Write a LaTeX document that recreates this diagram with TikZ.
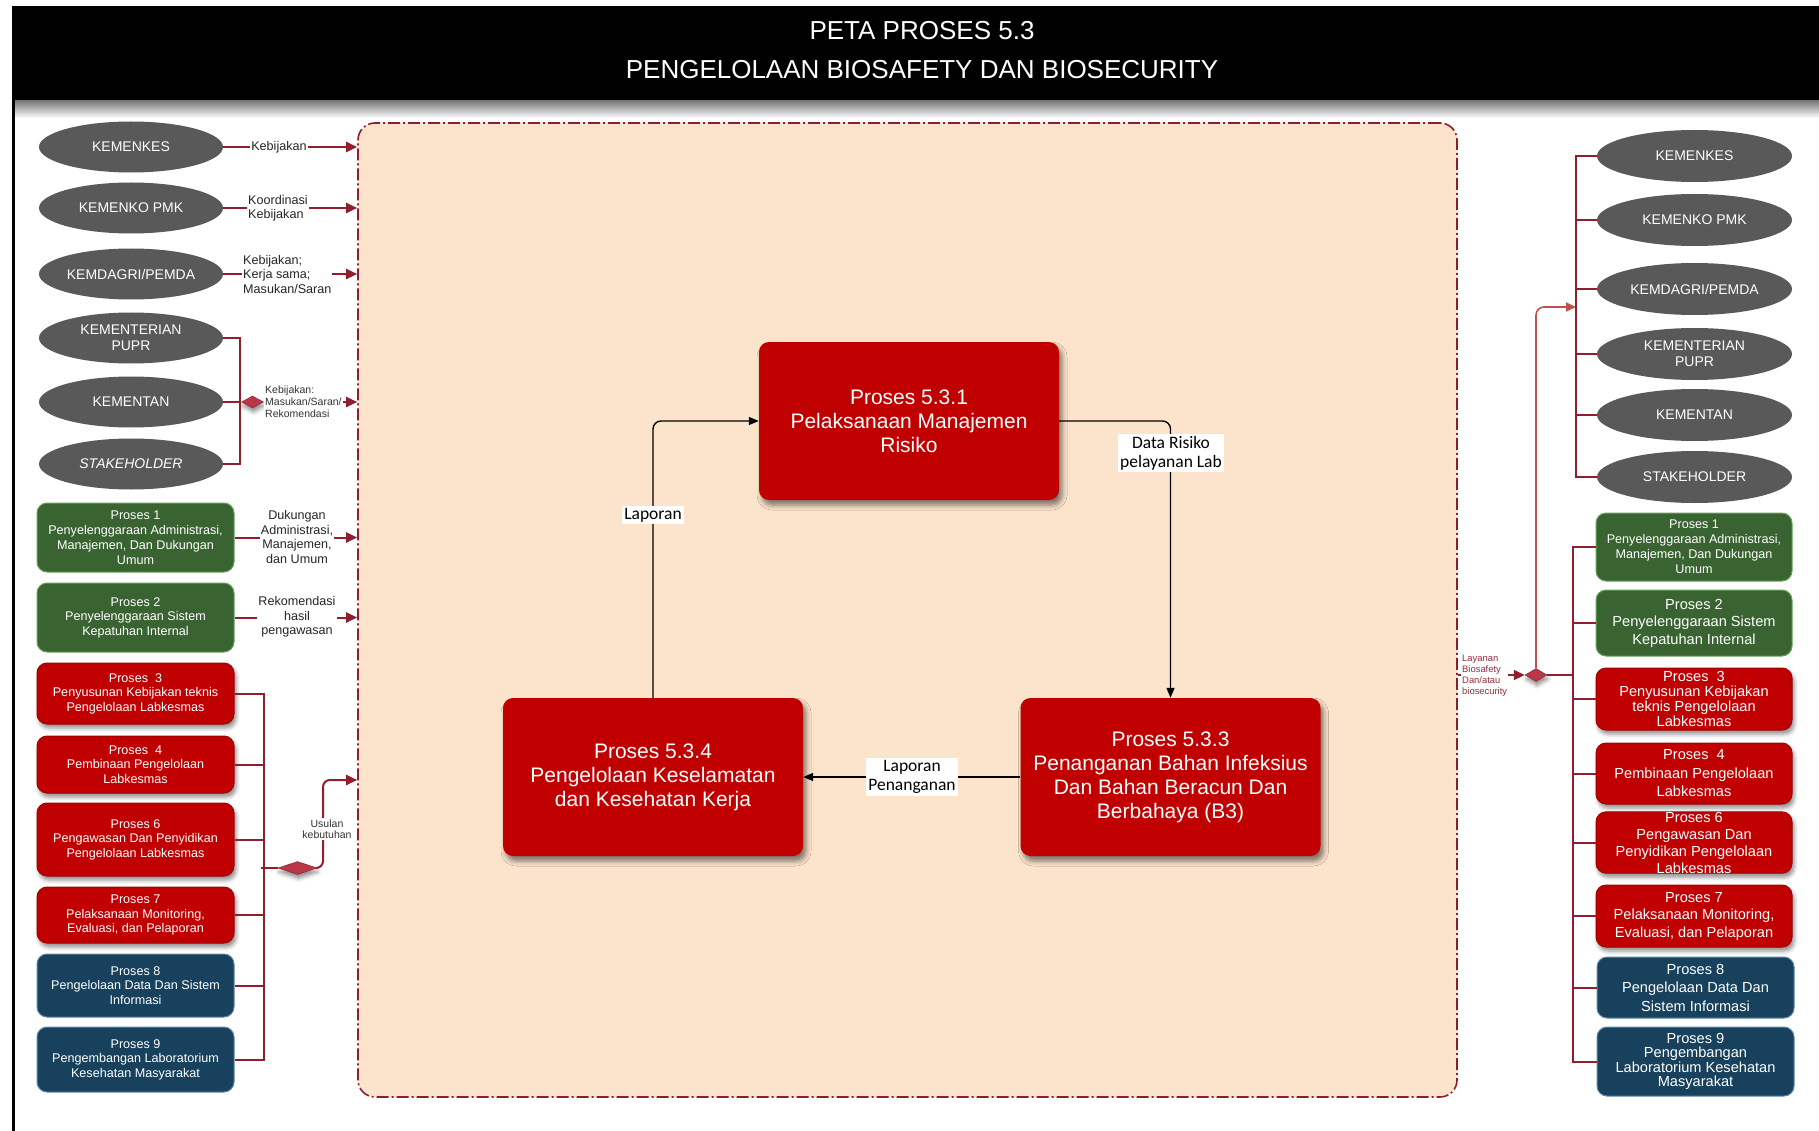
\documentclass[tikz,border=0pt]{standalone}
\usepackage{fontspec}
\setmainfont{Liberation Sans}
\newfontfamily\lblfont{Carlito}
\usetikzlibrary{arrows.meta,shapes.geometric,shadows.blur}

\definecolor{boxred}{RGB}{192,0,0}
\definecolor{boxgreen}{RGB}{58,99,50}
\definecolor{boxnavy}{RGB}{23,65,92}
\definecolor{ovalgray}{RGB}{89,89,89}
\definecolor{framefill}{RGB}{252,228,204}
\definecolor{framedraw}{RGB}{140,30,45}
\definecolor{linkred}{RGB}{145,30,45}
\definecolor{linklight}{RGB}{192,80,77}
\definecolor{diamfill}{RGB}{185,55,70}
\definecolor{notered}{RGB}{150,45,60}

\newcommand{\fsz}[2]{\fontsize{#1}{#2}\selectfont}

\begin{document}
\begin{tikzpicture}[x=1pt,y=-1pt,
  oval/.style={ellipse, fill=ovalgray, text=white, inner sep=0pt, align=center, font=\fsz{14}{16}},
  lefto/.style={oval, minimum width=184pt, minimum height=51pt},
  righto/.style={oval, minimum width=195pt, minimum height=52pt},
  sbox/.style={rounded corners=10pt, text=white, align=center, inner sep=0pt, line width=1pt},
  sred/.style={sbox, fill=boxred, draw=boxred!85!black, blur shadow={shadow xshift=2pt, shadow yshift=-4pt, shadow blur radius=4pt, shadow opacity=45}},
  sgreen/.style={sbox, fill=boxgreen, draw={rgb,255:red,100;green,165;blue,90}},
  snavy/.style={sbox, fill=boxnavy, draw={rgb,255:red,95;green,135;blue,165}},
  lsize/.style={minimum width=197pt, font=\fsz{12.6}{14.5}},
  rsize/.style={minimum width=196pt, font=\fsz{14.6}{17.5}},
  cbox/.style={rounded corners=10pt, fill=boxred, text=white, align=center, inner sep=0pt,
    minimum width=300pt, minimum height=158pt, font=\fsz{21}{24},
    blur shadow={shadow xshift=3pt, shadow yshift=-5pt, shadow blur radius=5pt, shadow opacity=50}},
  redlink/.style={draw=linkred, line width=2pt},
  redarrow/.style={redlink, -{Triangle[length=11pt,width=10pt]}},
  blackarrow/.style={draw=black, line width=1.4pt, rounded corners=8pt, -{Triangle[length=10pt,width=8pt]}},
  joint/.style={diamond, fill=diamfill, draw=diamfill!75!black, line width=0.5pt, inner sep=0pt,
    blur shadow={shadow xshift=1pt, shadow yshift=-4pt, shadow blur radius=4pt, shadow opacity=45}},
  sidelbl/.style={fill=white, inner sep=1pt, align=center, text=black!85, font=\fsz{12.6}{14.5}},
  smalllbl/.style={fill=white, inner sep=1pt, align=left, text=black!80, font=\fsz{10.5}{12}},
  clbl/.style={fill=white, inner sep=2pt, align=center, font=\lblfont\fsz{17.5}{19}}
]
\useasboundingbox (0,0) rectangle (1819,1131);

% header bar with its soft shadow and the left margin rule
\shade[top color=black!55, bottom color=white] (15,100) rectangle (1819,118);
\fill[black] (12,6) rectangle (1819,100);
\draw[line width=3pt] (13.5,99) -- (13.5,1131);
\node[text=white, font=\fsz{26}{30}] (title1) at (922,31) {PETA PROSES 5.3};
\node[text=white, font=\fsz{26}{30}] (title2) at (922,70) {PENGELOLAAN BIOSAFETY DAN BIOSECURITY};

% process area
\node[draw=framedraw, fill=framefill, rounded corners=17pt, line width=1.6pt,
  dash pattern=on 12pt off 3pt on 2pt off 3pt, minimum width=1099pt, minimum height=974pt,
  inner sep=0pt] (frame) at (907.5,610) {};

% external parties, left
\node[lefto] (le1) at (131,147) {KEMENKES};
\node[lefto] (le2) at (131,208) {KEMENKO PMK};
\node[lefto] (le3) at (131,274) {KEMDAGRI/PEMDA};
\node[lefto] (le4) at (131,338) {KEMENTERIAN\\PUPR};
\node[lefto] (le5) at (131,402) {KEMENTAN};
\node[lefto] (le6) at (131,464) {\itshape STAKEHOLDER};

% supporting processes, left
\node[sgreen, lsize, minimum height=69pt, font=\fsz{12.6}{15}] (lp1) at (135.5,537.5) {Proses 1\\Penyelenggaraan Administrasi,\\Manajemen, Dan Dukungan\\Umum};
\node[sgreen, lsize, minimum height=69pt] (lp2) at (135.5,617.5) {Proses 2\\Penyelenggaraan Sistem\\Kepatuhan Internal};
\node[sred, lsize, minimum height=61pt] (lp3) at (135.5,693.5) {Proses\ \ 3\\Penyusunan Kebijakan teknis\\Pengelolaan Labkesmas};
\node[sred, lsize, minimum height=57pt] (lp4) at (135.5,764.5) {Proses\ \ 4\\Pembinaan Pengelolaan\\Labkesmas};
\node[sred, lsize, minimum height=73pt] (lp6) at (135.5,839.5) {Proses 6\\Pengawasan Dan Penyidikan\\Pengelolaan Labkesmas};
\node[sred, lsize, minimum height=56pt] (lp7) at (135.5,915) {Proses 7\\Pelaksanaan Monitoring,\\Evaluasi, dan Pelaporan};
\node[snavy, lsize, minimum height=63pt] (lp8) at (135.5,985.5) {Proses 8\\Pengelolaan Data Dan Sistem\\Informasi};
\node[snavy, lsize, minimum height=65pt] (lp9) at (135.5,1059.5) {Proses 9\\Pengembangan Laboratorium\\Kesehatan Masyarakat};

% external parties, right
\node[righto] (re1) at (1694.5,156) {KEMENKES};
\node[righto] (re2) at (1694.5,220) {KEMENKO PMK};
\node[righto] (re3) at (1694.5,289) {KEMDAGRI/PEMDA};
\node[righto] (re4) at (1694.5,354) {KEMENTERIAN\\PUPR};
\node[righto] (re5) at (1694.5,415) {KEMENTAN};
\node[righto] (re6) at (1694.5,477) {STAKEHOLDER};

% supporting processes, right
\node[sgreen, rsize, minimum height=68pt, font=\fsz{12.6}{15}] (rp1) at (1694,547) {Proses 1\\Penyelenggaraan Administrasi,\\Manajemen, Dan Dukungan\\Umum};
\node[sgreen, rsize, minimum height=66pt] (rp2) at (1694,623) {Proses 2\\Penyelenggaraan Sistem\\Kepatuhan Internal};
\node[sred, rsize, minimum height=62pt, font=\fsz{14.6}{15}] (rp3) at (1694,699) {Proses\ \ 3\\Penyusunan Kebijakan\\teknis Pengelolaan\\Labkesmas};
\node[sred, rsize, minimum height=61pt, font=\fsz{14.6}{18.5}] (rp4) at (1694,773.5) {Proses\ \ 4\\Pembinaan Pengelolaan\\Labkesmas};
\node[sred, rsize, minimum height=61pt, font=\fsz{14.6}{17}] (rp6) at (1694,842.5) {Proses 6\\Pengawasan Dan\\Penyidikan Pengelolaan\\Labkesmas};
\node[sred, rsize, minimum height=62pt] (rp7) at (1694,916) {Proses 7\\Pelaksanaan Monitoring,\\Evaluasi, dan Pelaporan};
\node[snavy, rsize, minimum width=197pt, minimum height=61pt, font=\fsz{14.6}{18.5}] (rp8) at (1695.5,987.5) {Proses 8\\Pengelolaan Data Dan\\Sistem Informasi};
\node[snavy, rsize, minimum width=197pt, minimum height=69pt, font=\fsz{14.6}{14.5}] (rp9) at (1695.5,1061.5) {Proses 9\\Pengembangan\\Laboratorium Kesehatan\\Masyarakat};

% core processes
\node[cbox] (b531) at (909,421) {Proses 5.3.1\\Pelaksanaan Manajemen\\Risiko};
\node[cbox] (b533) at (1170.5,777) {Proses 5.3.3\\Penanganan Bahan Infeksius\\Dan Bahan Beracun Dan\\Berbahaya (B3)};
\node[cbox] (b534) at (653,777) {Proses 5.3.4\\Pengelolaan Keselamatan\\dan Kesehatan Kerja};

% core flow
\draw[blackarrow] (b531.east) -| (b533.north);
\draw[blackarrow] (b533.west) -- (b534.east);
\draw[blackarrow] (b534.north) |- (b531.west);
\node[clbl] (c1) at (1171,453) {Data Risiko\\pelayanan Lab};
\node[clbl] (c2) at (912,777) {Laporan\\Penanganan};
\node[clbl] (c3) at (653,515) {Laporan};

% inputs from the left parties
\draw[redarrow] (le1.east) -- (le1.east -| frame.west);
\node[sidelbl] (l1) at (279,147) {Kebijakan};
\draw[redarrow] (le2.east) -- (le2.east -| frame.west);
\node[sidelbl, anchor=west, align=left] (l2) at (247,208) {Koordinasi\\Kebijakan};
\draw[redarrow] (le3.east) -- (le3.east -| frame.west);
\node[sidelbl, anchor=west, align=left] (l3) at (242,274) {Kebijakan;\\Kerja sama;\\Masukan/Saran};

\coordinate (lbk) at (240,402);
\node[joint, minimum width=22pt, minimum height=12pt] (d1) at (252.5,402) {};
\draw[redlink] (le4.east) -- (le4.east -| lbk) -- (le6.east -| lbk) -- (le6.east);
\draw[redlink] (le5.east) -- (d1.west);
\draw[redarrow] (d1.east) -- (d1.east -| frame.west);
\node[smalllbl, anchor=west] (l4) at (264,402) {Kebijakan:\\Masukan/Saran/\\Rekomendasi};

% inputs from the left processes
\draw[redarrow] (lp1.east) -- (lp1.east -| frame.west);
\node[sidelbl] (l5) at (297,537) {Dukungan\\Administrasi,\\Manajemen,\\dan Umum};
\draw[redarrow] (lp2.east) -- (lp2.east -| frame.west);
\node[sidelbl] (l6) at (297,617) {Rekomendasi\\hasil\\pengawasan};

\coordinate (pbk) at (264,868);
\draw[redlink] (lp3.east) -- (lp3.east -| pbk) -- (lp9.east -| pbk) -- (lp9.east);
\foreach \n in {lp4,lp6,lp7,lp8} \draw[redlink] (\n.east) -- (\n.east -| pbk);
\node[joint, minimum width=39pt, minimum height=13pt] (d2) at (297.5,868) {};
\draw[redlink] (261,868) -- (d2.west);
\coordinate (up) at (323,780);
\draw[redarrow, rounded corners=7pt] (d2.east) -| (up) -- (up -| frame.west);
\node[smalllbl, align=center, font=\fsz{10.5}{11.5}] (l7) at (327,829) {Usulan\\kebutuhan};

% outputs to the right side
\node[joint, minimum width=22pt, minimum height=13pt] (d3) at (1536,675) {};
\draw[redarrow] (d3.west -| frame.east) -- (d3.west);
\node[smalllbl, text=notered, font=\fsz{9.4}{11}, anchor=west] (l8) at (1461,676) {Layanan\\Biosafety\\Dan/atau\\biosecurity};
\coordinate (ebk) at (1576,307);
\draw[draw=linklight, line width=1.6pt, rounded corners=8pt, -{Triangle[length=10pt,width=9pt]}] (d3.north) |- (ebk);
\draw[redlink] (re1.west) -- (re1.west -| ebk) -- (re6.west -| ebk) -- (re6.west);
\foreach \n in {re2,re3,re4,re5} \draw[redlink] (\n.west) -- (\n.west -| ebk);

\coordinate (rbk) at (1573,675);
\draw[redlink] (d3.east) -- (rbk);
\draw[redlink] (rp1.west) -- (rp1.west -| rbk) -- (rp9.west -| rbk) -- (rp9.west);
\foreach \n in {rp2,rp3,rp4,rp6,rp7,rp8} \draw[redlink] (\n.west) -- (\n.west -| rbk);
\end{tikzpicture}
\end{document}
